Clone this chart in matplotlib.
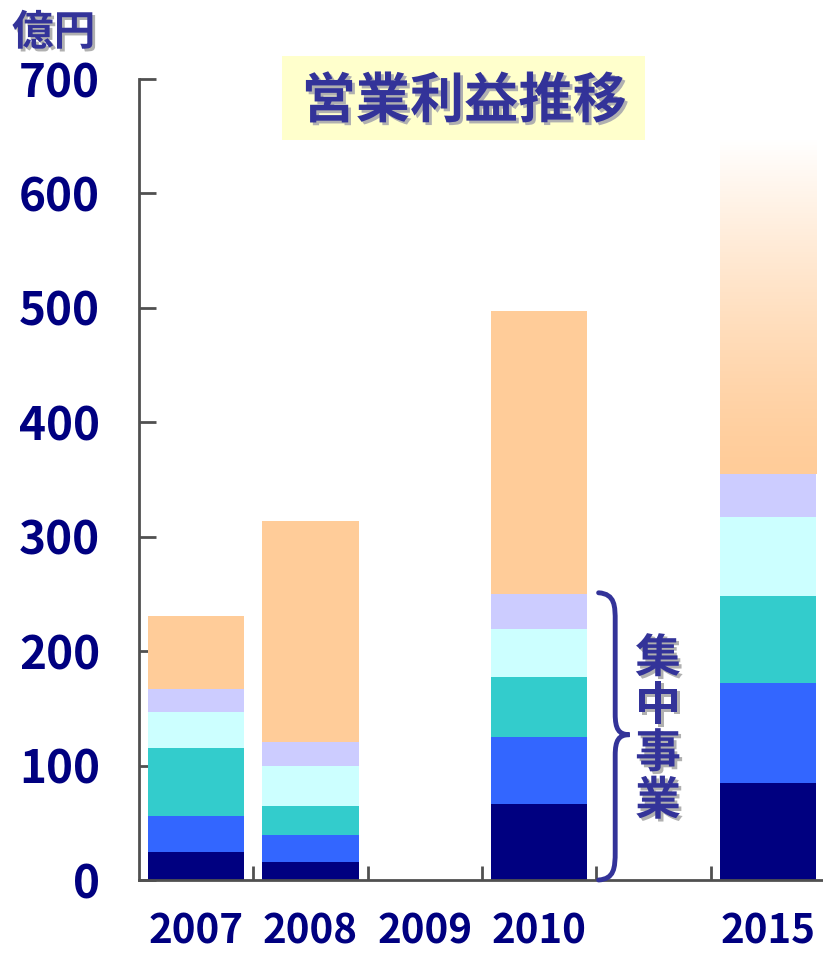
import numpy as np
import matplotlib.pyplot as plt
import matplotlib.patheffects as pe
from matplotlib.path import Path
from matplotlib.patches import PathPatch, Rectangle

plt.rcParams['font.family'] = ['Noto Sans CJK JP', 'DejaVu Sans']

# 年度ごとの営業利益（億円）、下から積み上げる順
years = ['2007', '2008', '2009', '2010', '', '2015']
seg1 = [24.5, 15.7, 0, 66.4, 0, 84.8]     # 濃紺
seg2 = [31.4, 23.6, 0, 58.6, 0, 87.4]     # 青
seg3 = [59.5, 25.4, 0, 52.4, 0, 76.0]     # 青緑
seg4 = [31.4, 34.9, 0, 41.9, 0, 69.0]     # 水色
seg5 = [19.8, 21.0, 0, 30.6, 0, 37.8]     # 薄紫
seg6 = [64.1, 193.1, 0, 247.3, 0, 292.0]  # その他（2015は見込み）

colors = ['#000080', '#3366FF', '#33CCCC', '#CCFFFF', '#CCCCFF', '#FFCC99']
ink = '#333399'
shadow = [pe.SimplePatchShadow(offset=(2, -2), shadow_rgbFace='#b0b0b0', alpha=1.0), pe.Normal()]

fig = plt.figure(figsize=(8.23, 9.55), dpi=100)
ax = fig.add_axes([139 / 823, 75 / 955, 686 / 823, 801 / 955])

x = np.arange(len(years))
width = 0.84
bottom = np.zeros(len(years))
layers = [seg1, seg2, seg3, seg4, seg5, seg6]
for i, (vals, c) in enumerate(zip(layers, colors)):
    vals = np.array(vals, dtype=float)
    if i == len(layers) - 1:
        # 最後の年は見込みなのでグラデーションで塗る
        ax.bar(x[:-1], vals[:-1], width, bottom=bottom[:-1], color=c, linewidth=0, zorder=2)
        last = ax.bar(x[-1:], vals[-1:], width, bottom=bottom[-1:], color='none', linewidth=0, zorder=2)
        rect = last[0]
        grad = np.linspace(0, 1, 256).reshape(-1, 1)
        peach = np.array([1.0, 0.8, 0.6])
        white = np.array([1.0, 1.0, 1.0])
        t = grad ** 1.3
        img = (peach * (1 - t[..., None]) + white * t[..., None]).reshape(256, 1, 3)
        im = ax.imshow(img, origin='lower', aspect='auto', zorder=2,
                       extent=[rect.get_x(), rect.get_x() + rect.get_width(),
                               rect.get_y(), rect.get_y() + rect.get_height()])
        im.set_clip_path(rect)
    else:
        ax.bar(x, vals, width, bottom=bottom, color=c, linewidth=0, zorder=2)
    bottom += vals

ax.set_xlim(-0.5, len(years) - 0.5)
ax.set_ylim(0, 700)

for s in ['top', 'right']:
    ax.spines[s].set_visible(False)
for s in ['left', 'bottom']:
    ax.spines[s].set_color('#505050')
    ax.spines[s].set_linewidth(2)
    ax.spines[s].set_zorder(3)

ax.set_yticks(np.arange(0, 701, 100))
ax.tick_params(axis='y', direction='in', length=12, width=2, color='#505050',
               labelsize=33, labelcolor='#000080', pad=28)
for lab in ax.get_yticklabels():
    lab.set_fontweight('bold')

ax.set_xticks(x)
ax.set_xticklabels(years)
ax.set_xticks(np.arange(0.5, len(years) - 0.5, 1), minor=True)
ax.tick_params(axis='x', which='major', length=0, labelsize=29, labelcolor='#000080', pad=23)
ax.tick_params(axis='x', which='minor', direction='in', length=10, width=2, color='#505050')
for lab in ax.get_xticklabels():
    lab.set_fontweight('bold')

# 単位
fig.text(12 / 823, 1 - 33 / 955, '億円', fontsize=30, fontweight='bold', color=ink,
         va='center', ha='left', path_effects=shadow)

# タイトル
fig.patches.append(Rectangle((282 / 823, 1 - 140 / 955), 363 / 823, 84 / 955,
                             transform=fig.transFigure, facecolor='#FFFFCC', edgecolor='none'))
fig.text(464 / 823, 1 - 102 / 955, '営業利益推移', fontsize=39, fontweight='bold', color=ink,
         ha='center', va='center', path_effects=shadow)

# 集中事業の括弧
x0, xm, xt = 3.52, 3.665, 3.79
top, mid, bot = 251, 127, 0
verts = [(x0, top), (xm, top - 1), (xm, top - 12), (xm, top - 25),
         (xm, mid + 18),
         (xm, mid + 5), (xm + 0.03, mid), (xt, mid),
         (xm + 0.03, mid), (xm, mid - 5), (xm, mid - 18),
         (xm, bot + 25),
         (xm, bot + 10), (xm - 0.01, bot + 1), (x0, bot)]
codes = [Path.MOVETO, Path.CURVE4, Path.CURVE4, Path.CURVE4,
         Path.LINETO,
         Path.CURVE4, Path.CURVE4, Path.CURVE4,
         Path.CURVE4, Path.CURVE4, Path.CURVE4,
         Path.LINETO,
         Path.CURVE4, Path.CURVE4, Path.CURVE4]
ax.add_patch(PathPatch(Path(verts, codes), facecolor='none', edgecolor=ink,
                       linewidth=3.5, capstyle='round', zorder=4, clip_on=False))

for i, ch in enumerate('集中事業'):
    ax.text(4.04, 193 - i * 41.5, ch, fontsize=33, fontweight='bold', color=ink,
            ha='center', va='center', path_effects=shadow, zorder=4)

fig.savefig('out.png', dpi=100)
